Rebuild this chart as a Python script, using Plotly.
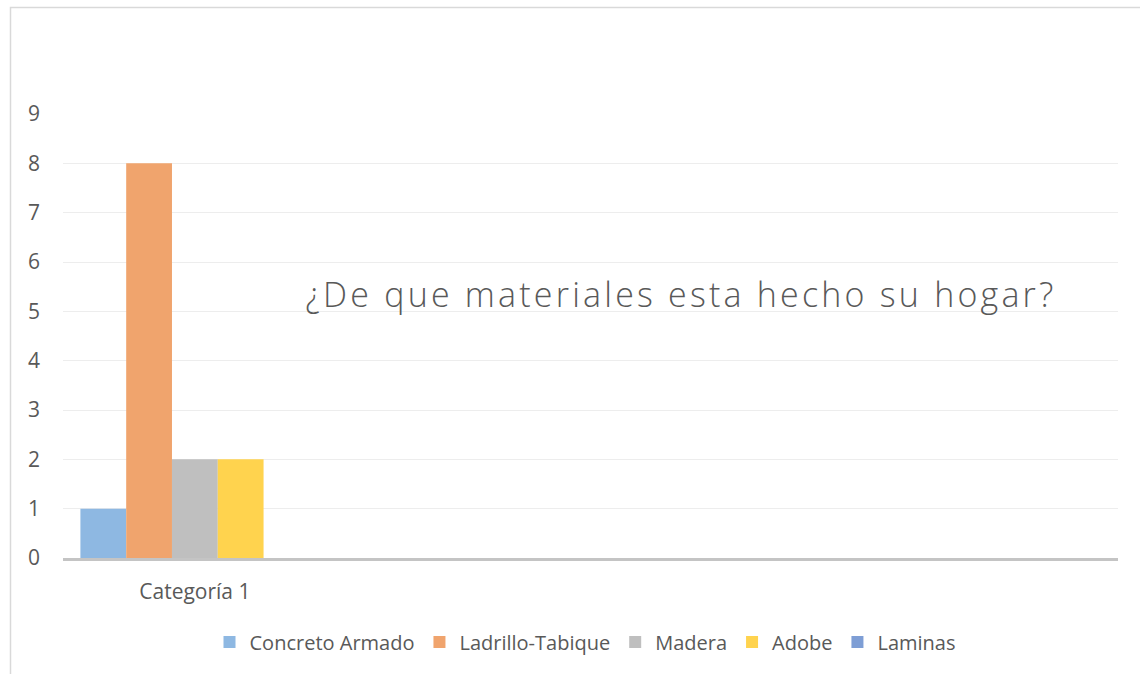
import plotly.graph_objects as go

categories = ["Categoría 1"]
series_names = ["Concreto Armado", "Ladrillo-Tabique", "Madera", "Adobe", "Laminas"]
series_values = [[1], [8], [2], [2], [0]]
colors = ["#8EB8E2", "#F0A46D", "#BFBFBF", "#FFD34E", "#7E9ED5"]
y_ticks = list(range(0, 10))
title_text = "¿De que materiales esta hecho su hogar?"

fig = go.Figure()
for name, vals, col in zip(series_names, series_values, colors):
    fig.add_trace(go.Bar(
        x=list(range(len(categories))), y=vals, name=name,
        marker=dict(color=col, line=dict(width=0)),
    ))

W, H = 1140, 674
L, R, T, B = 63, 22, 114, 116
pw, ph = W - L - R, H - T - B

def px2x(px):
    return (px - L) / pw

def py2y(py):
    return (H - B - py) / ph

fig.update_layout(
    width=W, height=H,
    margin=dict(l=L, r=R, t=T, b=B),
    paper_bgcolor="white", plot_bgcolor="white",
    barmode="group", bargap=0.132, bargroupgap=0,
    font=dict(family="Open Sans", color="#595959", size=21),
    showlegend=True,
    legend=dict(orientation="h", x=px2x(585), xanchor="center",
                y=py2y(642), yanchor="middle",
                font=dict(size=20, color="#595959"),
                itemwidth=30, traceorder="normal"),
    xaxis=dict(range=[-0.5, 3.5], tickvals=list(range(len(categories))),
               ticktext=categories, showgrid=False, zeroline=False,
               showline=True, linecolor="#C4C4C4", linewidth=3,
               ticks="", ticklabelstandoff=13,
               tickfont=dict(size=21, color="#595959"), fixedrange=True),
    yaxis=dict(range=[0, 9], tickvals=y_ticks, showgrid=True,
               gridcolor="#EDEDED", gridwidth=1, zeroline=False,
               showline=False, ticks="", ticklabelstandoff=22,
               tickfont=dict(size=21, color="#595959"), fixedrange=True),
    annotations=[dict(text=title_text, x=px2x(681), y=py2y(294),
                      xref="paper", yref="paper", showarrow=False,
                      xanchor="center", yanchor="middle",
                      font=dict(family="Open Sans", size=34, weight=300,
                                color="#595959"))],
    shapes=[dict(type="rect", xref="paper", yref="paper",
                 x0=px2x(10.5), x1=px2x(1160), y0=py2y(7.5), y1=py2y(700),
                 line=dict(color="#D9D9D9", width=1.5), fillcolor="rgba(0,0,0,0)",
                 layer="below")],
)

post = (
    "document.body.style.margin='0';"
    "document.body.style.overflow='hidden';"
    "document.querySelectorAll('.annotation-text').forEach(function(e){"
    "e.style.letterSpacing='3.2px';});"
)

fig.write_html("out.html", config={"displayModeBar": False}, post_script=post)
